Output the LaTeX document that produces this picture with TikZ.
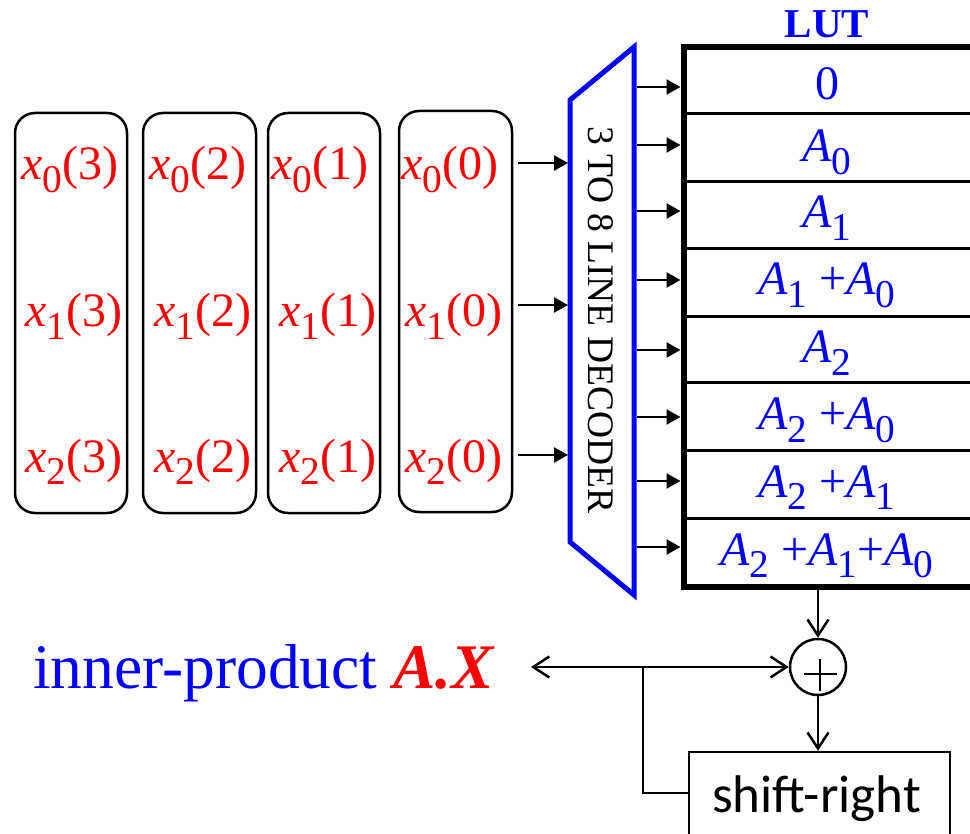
\documentclass[tikz,border=0pt]{standalone}
\usepackage{fontspec}
\setmainfont{Liberation Serif}
\newfontfamily\tnr{Liberation Serif}
\newfontfamily\calibfont{Carlito}
\usetikzlibrary{arrows.meta}
\definecolor{myblue}{RGB}{0,0,255}
\definecolor{myred}{RGB}{255,0,0}
\newcommand\sbx[1]{\raisebox{-0.27em}{\scalebox{0.82}{#1}}}
\newcommand\xl[2]{{\itshape x}\sbx{#1}(#2)}
\newcommand\ai[1]{{\itshape A}\sbx{#1}}
\tikzset{
  xbox/.style={draw, line width=2.5pt, rounded corners=20pt, inner sep=0pt},
  xlab/.style={text=myred, font=\tnr\fontsize{48pt}{50pt}\selectfont, anchor=base, inner sep=0pt},
  alab/.style={text=myblue, font=\tnr\fontsize{48pt}{50pt}\selectfont, anchor=base, inner sep=0pt},
  lutrow/.style={draw, line width=3pt, minimum width=286pt, inner sep=0pt},
  farrow/.style={line width=2.5pt, -{Triangle[length=14pt,width=15pt]}},
  oarrow/.style={line width=2.5pt, -{Straight Barb[length=16pt,width=21pt,line width=2.5pt]}},
}
\begin{document}
\begin{tikzpicture}[x=1pt,y=-1pt]
\useasboundingbox (0,0) rectangle (970,834);
% input register boxes
\node[xbox, minimum width=112pt, minimum height=400pt] (b1) at (71,313) {};
\node[xbox, minimum width=113pt, minimum height=400pt] (b2) at (199.5,313) {};
\node[xbox, minimum width=112pt, minimum height=400pt] (b3) at (324,313) {};
\node[xbox, minimum width=113pt, minimum height=401pt] (b4) at (455.5,311.5) {};
% labels
\node[xlab] (x03) at (70,180) {\xl{0}{3}};
\node[xlab] (x13) at (74,327) {\xl{1}{3}};
\node[xlab] (x23) at (74,472) {\xl{2}{3}};
\node[xlab] (x02) at (198,180) {\xl{0}{2}};
\node[xlab] (x12) at (203,327) {\xl{1}{2}};
\node[xlab] (x22) at (203,472) {\xl{2}{2}};
\node[xlab] (x01) at (320,180) {\xl{0}{1}};
\node[xlab] (x11) at (328,327) {\xl{1}{1}};
\node[xlab] (x21) at (328,472) {\xl{2}{1}};
\node[xlab] (x00) at (450,180) {\xl{0}{0}};
\node[xlab] (x10) at (454,327) {\xl{1}{0}};
\node[xlab] (x20) at (454,472) {\xl{2}{0}};
% decoder
\draw[myblue, line width=5pt, line join=miter] (570,100) -- (634,47) -- (634,595) -- (570,542) -- cycle;
\node[rotate=-90, inner sep=0pt, font=\tnr\fontsize{37.5pt}{40pt}\selectfont] (dec) at (601,320) {3 TO 8 LINE DECODER};
\coordinate (di1) at (568,163);
\coordinate (di2) at (568,305);
\coordinate (di3) at (568,455);
\draw[farrow, shorten <=5pt] (b4.east |- di1) -- (di1);
\draw[farrow, shorten <=5pt] (b4.east |- di2) -- (di2);
\draw[farrow, shorten <=5pt] (b4.east |- di3) -- (di3);
% LUT rows
\node[lutrow, minimum height=65pt] (r1) at (828,81.5) {};
\node[lutrow, minimum height=68pt] (r2) at (828,148) {};
\node[lutrow, minimum height=67pt] (r3) at (828,215.5) {};
\node[lutrow, minimum height=68pt] (r4) at (828,283) {};
\node[lutrow, minimum height=66pt] (r5) at (828,350) {};
\node[lutrow, minimum height=68pt] (r6) at (828,417) {};
\node[lutrow, minimum height=67pt] (r7) at (828,484.5) {};
\node[lutrow, minimum height=67pt] (r8) at (828,551.5) {};
\draw[line width=6pt] (r1.north west) rectangle (r8.south east);
\node[text=myblue, font=\tnr\fontsize{41pt}{43pt}\selectfont\bfseries, anchor=base, inner sep=0pt] (lut) at (827,38) {LUT};
\node[alab] (l1) at (827,100) {0};
\node[alab] (l2) at (827,162) {\ai{0}};
\node[alab] (l3) at (827,228) {\ai{1}};
\node[alab] (l4) at (827,295) {\ai{1} +\ai{0}};
\node[alab] (l5) at (827,363) {\ai{2}};
\node[alab] (l6) at (827,430) {\ai{2} +\ai{0}};
\node[alab] (l7) at (827,497) {\ai{2} +\ai{1}};
\node[alab] (l8) at (827,565) {\ai{2} +\ai{1}+\ai{0}};
% decoder outputs
\foreach \i/\yy in {1/87,2/145,3/211,4/280,5/350,6/417,7/481,8/547}{
  \coordinate (do\i) at (637,\yy);
  \draw[farrow, shorten >=3pt] (do\i) -- (r\i.west |- do\i);
}
% adder and accumulator
\node[draw, circle, line width=2.5pt, minimum size=56pt, inner sep=0pt] (sum) at (818,667) {};
\draw[line width=2.5pt] (804,674) -- (837,674) (820,659) -- (820,691);
\draw[oarrow] (r8.south -| sum) -- (sum.north);
\coordinate (br) at (643,667);
\coordinate (outp) at (531,667);
\draw[oarrow] (br) -- (outp);
\draw[oarrow] (br) -- (sum.west);
\node[draw, line width=2.5pt, minimum width=261pt, minimum height=128pt, inner sep=0pt] (sr) at (819.5,816) {};
\node[font=\calibfont\fontsize{53pt}{55pt}\selectfont, anchor=base, inner sep=0pt] (srt) at (816.5,812) {shift-right};
\draw[oarrow] (sum.south) -- (sum.south |- sr.north);
\draw[line width=2.5pt] (sr.west |- 0,793) -| (br);
\node[anchor=base west, inner sep=0pt, font=\tnr\fontsize{63.5pt}{66pt}\selectfont] (ip) at (33,688) {\textcolor{myblue}{inner-product} \textcolor{myred}{\bfseries\itshape A.X}};
\end{tikzpicture}
\end{document}
